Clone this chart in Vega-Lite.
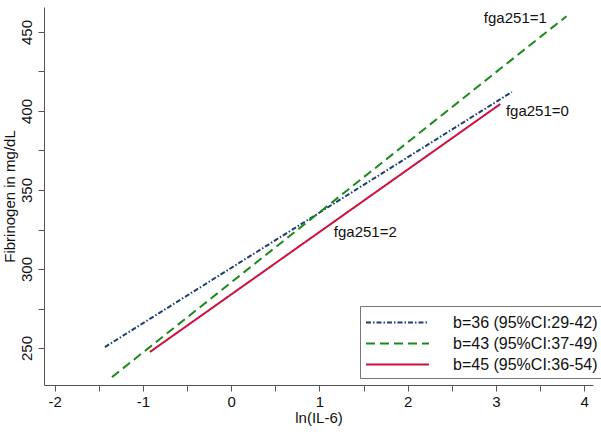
{
  "$schema": "https://vega.github.io/schema/vega-lite/v6.json",
  "autosize": "none",
  "width": 549,
  "height": 378,
  "padding": {"left": 44, "top": 7, "right": 8, "bottom": 47},
  "background": "white",
  "config": {
    "view": {"stroke": null},
    "font": "Liberation Sans",
    "axis": {"grid": false, "domainColor": "#555", "tickColor": "#555", "labelColor": "#111", "titleColor": "#111", "labelFontSize": 15, "titleFontSize": 15, "titleFontWeight": "normal", "labelFont": "Liberation Sans", "titleFont": "Liberation Sans"}
  },
  "datasets": {
    "lines": [
      {"series": "b=36 (95%CI:29-42)", "x": -1.43, "y": 250.6},
      {"series": "b=36 (95%CI:29-42)", "x": 3.18, "y": 412},
      {"series": "b=43 (95%CI:37-49)", "x": -1.35, "y": 231.6},
      {"series": "b=43 (95%CI:37-49)", "x": 3.8, "y": 460},
      {"series": "b=45 (95%CI:36-54)", "x": -0.92, "y": 247.5},
      {"series": "b=45 (95%CI:36-54)", "x": 3.05, "y": 404.4}
    ],
    "labels": [
      {"text": "fga251=1", "x": 3.22, "y": 458.9},
      {"text": "fga251=0", "x": 3.47, "y": 400},
      {"text": "fga251=2", "x": 1.52, "y": 323.4}
    ]
  },
  "layer": [
    {
      "data": {"name": "lines"},
      "mark": {"type": "line", "strokeWidth": 2},
      "encoding": {
        "x": {"field": "x", "type": "quantitative", "scale": {"domain": [-2.12, 4.1], "nice": false, "zero": false},
          "axis": {"title": "ln(IL-6)", "values": [-2, -1.5, -1, -0.5, 0, 0.5, 1, 1.5, 2, 2.5, 3, 3.5, 4], "labelExpr": "datum.value % 1 == 0 ? (datum.value < 0 ? '-' + toString(-datum.value) : toString(datum.value)) : ''", "tickSize": 6, "labelPadding": 3, "titlePadding": 1}},
        "y": {"field": "y", "type": "quantitative", "scale": {"domain": [226.6, 465.8], "nice": false, "zero": false},
          "axis": {"title": "Fibrinogen in mg/dL", "values": [250, 275, 300, 325, 350, 375, 400, 425, 450], "labelExpr": "datum.value % 50 == 0 ? datum.label : ''", "labelAngle": -90, "labelAlign": "center", "labelBaseline": "bottom", "tickSize": 6, "labelPadding": 4, "titlePadding": 2}},
        "color": {"field": "series", "type": "nominal",
          "scale": {"domain": ["b=36 (95%CI:29-42)", "b=43 (95%CI:37-49)", "b=45 (95%CI:36-54)"], "range": ["#1d3f73", "#1a8a1a", "#cc1040"]},
          "legend": {"title": null, "orient": "none", "legendX": 316, "legendY": 299, "symbolType": "M-3,0H3", "symbolSize": 441, "symbolStrokeWidth": 2, "symbolOffset": 21, "labelOffset": 44, "labelLimit": 400, "labelFontSize": 16, "labelFont": "Liberation Sans", "labelColor": "#111", "strokeColor": "#777", "fillColor": "white", "padding": 5, "rowPadding": 1}},
        "strokeDash": {"field": "series", "type": "nominal",
          "scale": {"domain": ["b=36 (95%CI:29-42)", "b=43 (95%CI:37-49)", "b=45 (95%CI:36-54)"], "range": [[5, 2, 1.5, 2], [9, 5], [1, 0]]},
          "legend": null}
      }
    },
    {
      "data": {"name": "labels"},
      "mark": {"type": "text", "fontSize": 15, "font": "Liberation Sans", "color": "#111", "align": "center", "baseline": "middle"},
      "encoding": {
        "x": {"field": "x", "type": "quantitative"},
        "y": {"field": "y", "type": "quantitative"},
        "text": {"field": "text"}
      }
    }
  ]
}
